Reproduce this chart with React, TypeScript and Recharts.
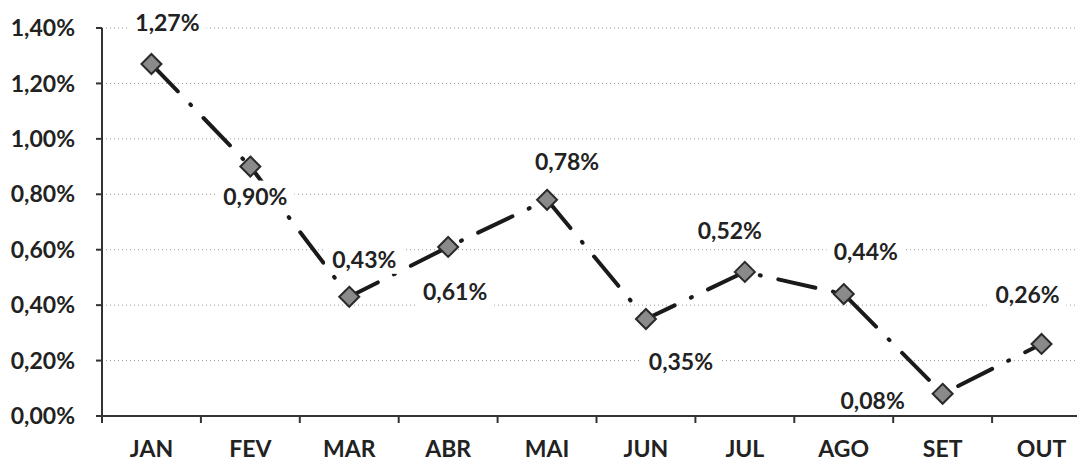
import { LineChart, Line, XAxis, YAxis, CartesianGrid, LabelList } from "recharts";

const months = ["JAN", "FEV", "MAR", "ABR", "MAI", "JUN", "JUL", "AGO", "SET", "OUT"];
const taxa = [1.27, 0.9, 0.43, 0.61, 0.78, 0.35, 0.52, 0.44, 0.08, 0.26];
const yTicks = [0, 0.2, 0.4, 0.6, 0.8, 1.0, 1.2, 1.4];

const data = months.map((m, i) => ({ mes: m, taxa: taxa[i] }));

const W = 1077;
const H = 461;
const LEFT = 102;
const RIGHT = -14;
const FONT = "Lato, 'Open Sans', sans-serif";

// where each value label sits relative to its marker
const labelOffsets: Record<string, [number, number]> = {
    JAN: [16, -42],
    FEV: [5, 29],
    MAR: [15, -38],
    ABR: [7, 44],
    MAI: [20, -39],
    JUN: [35, 42],
    JUL: [-15, -42],
    AGO: [22, -43],
    SET: [-70, 6],
    OUT: [-14, -50],
};

const fmt = (v: number) => v.toFixed(2).replace(".", ",") + "%";

const Diamond = (props: any) => {
    const { cx, cy } = props;
    if (cx == null || cy == null) return null;
    const r = 10;
    return (
        <polygon
            points={`${cx},${cy - r} ${cx + r},${cy} ${cx},${cy + r} ${cx - r},${cy}`}
            fill="#8a8a8a"
            stroke="#2a2a2a"
            strokeWidth={2}
        />
    );
};

const ValueLabel = (props: any) => {
    const { x, y, value, index } = props;
    const [dx, dy] = labelOffsets[months[index]] || [0, -30];
    const cx = x + dx;
    const cy = y + dy;
    return (
        <g>
            <rect x={cx - 39} y={cy - 15} width={78} height={30} fill="#fff" />
            <text
                x={cx}
                y={cy}
                textAnchor="middle"
                dominantBaseline="central"
                fontFamily={FONT}
                fontWeight={700}
                fontSize={23}
                fill="#222"
            >
                {fmt(value)}
            </text>
        </g>
    );
};

const MonthTick = (props: any) => {
    const { x, y, payload } = props;
    const half = (W - LEFT - RIGHT) / months.length / 2;
    const axisY = y - 26;
    return (
        <g>
            <line x1={x - half} y1={axisY} x2={x - half} y2={axisY + 7} stroke="#333" strokeWidth={2} />
            <text
                x={x}
                y={y - 1}
                dy="0.71em"
                textAnchor="middle"
                fontFamily={FONT}
                fontWeight={700}
                fontSize={23}
                fill="#222"
            >
                {payload.value}
            </text>
        </g>
    );
};

export default function App() {
    return (
        <div style={{ position: "absolute", left: 0, top: 0, width: W, height: H, overflow: "hidden", background: "#fff" }}>
            <LineChart width={W} height={H} data={data} margin={{ top: 28, right: RIGHT, bottom: 0, left: 0 }}>
                <CartesianGrid vertical={false} stroke="#999" strokeDasharray="1 3" />
                <XAxis
                    dataKey="mes"
                    scale="band"
                    height={45}
                    axisLine={{ stroke: "#333", strokeWidth: 2 }}
                    tickLine={false}
                    tickMargin={20}
                    tickSize={6}
                    interval={0}
                    tick={<MonthTick />}
                />
                <YAxis
                    width={LEFT}
                    domain={[0, 1.4]}
                    ticks={yTicks}
                    tickFormatter={fmt}
                    axisLine={{ stroke: "#333", strokeWidth: 2 }}
                    tickLine={{ stroke: "#333", strokeWidth: 2 }}
                    tickSize={6}
                    tickMargin={21}
                    tick={{ fontFamily: FONT, fontWeight: 700, fontSize: 23, fill: "#222" }}
                />
                <Line
                    type="linear"
                    dataKey="taxa"
                    stroke="#1a1a1a"
                    strokeWidth={4}
                    strokeLinecap="round"
                    strokeDasharray="38 18 1 18"
                    dot={<Diamond />}
                    activeDot={false}
                    isAnimationActive={false}
                >
                    <LabelList dataKey="taxa" content={<ValueLabel />} />
                </Line>
            </LineChart>
        </div>
    );
}
